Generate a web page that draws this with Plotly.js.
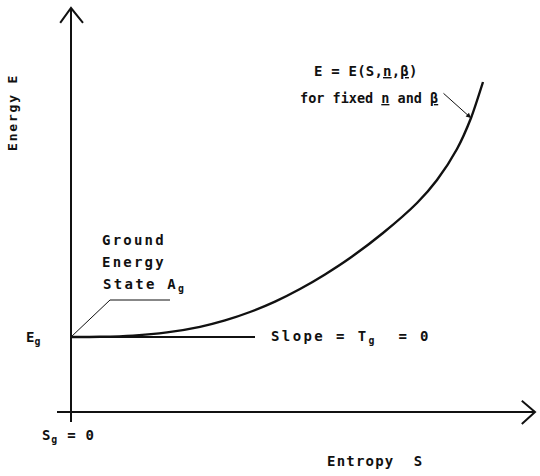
<!DOCTYPE html>
<html>
<head>
<meta charset="utf-8">
<script src="https://cdn.plot.ly/plotly-3.0.1.min.js"></script>
<style>
  html, body { margin: 0; padding: 0; background: #fff; }
  #chart { width: 540px; height: 476px; }
</style>
</head>
<body>
<div id="chart"></div>
<script>
// Energy curve E = E(S, n, beta) for fixed n and beta (arbitrary units)
const entropyS = [0, 0.725, 1.55, 2.4, 3.225, 3.85, 4.475, 5.1, 5.725, 6.35, 6.975, 7.8, 8.65, 9.15, 9.65, 10.0, 10.3];
const energyE  = [1.875, 1.88, 1.91, 1.99, 2.13, 2.29, 2.5, 2.76, 3.075, 3.44, 3.85, 4.475, 5.225, 5.8, 6.575, 7.35, 8.25];

// Ground state energy and the zero-slope tangent line
const groundEnergy = 1.875;
const slopeLineS = [0, 4.6];

// Axes extents (arrow tips)
const yAxisE = [-0.25, 10.1];
const xAxisS = [-0.35, 11.6];

const ink = '#111';
const FONT = {family: 'DejaVu Sans Mono, Liberation Mono, monospace', size: 14, color: ink, weight: 'bold'};

const traces = [
  // y axis with open arrowhead
  {x: [0, 0], y: yAxisE, mode: 'lines', line: {color: ink, width: 2}},
  {x: [-0.27, 0, 0.3], y: [yAxisE[1] - 0.37, yAxisE[1], yAxisE[1] - 0.37], mode: 'lines', line: {color: ink, width: 2}},
  // x axis with open arrowhead
  {x: xAxisS, y: [0, 0], mode: 'lines', line: {color: ink, width: 2}},
  {x: [xAxisS[1] - 0.33, xAxisS[1], xAxisS[1] - 0.33], y: [0.28, 0, -0.3], mode: 'lines', line: {color: ink, width: 2}},
  // zero-slope line at ground energy
  {x: slopeLineS, y: [groundEnergy, groundEnergy], mode: 'lines', line: {color: ink, width: 2}},
  // leader line to "Ground Energy State"
  {x: [0, 0.975, 2.475], y: [groundEnergy, 2.8, 2.8], mode: 'lines', line: {color: ink, width: 1}},
  // energy curve
  {x: entropyS, y: energyE, mode: 'lines', line: {color: ink, width: 2.4, shape: 'spline', smoothing: 0.7}}
];

const sp = (t, ls) => '<span style="letter-spacing:' + ls + 'px">' + t + '</span>';
const ann = (text, x, y, extra) => Object.assign({
  text: text, x: x, y: y, xref: 'x', yref: 'y', showarrow: false,
  xanchor: 'center', yanchor: 'middle', font: FONT
}, extra || {});

const annotations = [
  ann(sp('Energy E', 1.8), -1.475, 7.475, {textangle: -90, font: Object.assign({}, FONT, {size: 13})}),
  ann('E<sub>g</sub>', -0.95, 1.85),
  ann(sp('Ground', 2.2), 1.575, 4.3),
  ann(sp('Energy', 2.2), 1.575, 3.75),
  ann(sp('State A<sub>g</sub>', 2.3), 1.825, 3.175),
  ann(sp('Slope = T<sub>g</sub>  = 0', 2.4), 7.0, 1.875),
  ann(sp('S<sub>g</sub> = 0', 0.8), -0.075, -0.6),
  ann(sp('Entropy  S', 1.2), 7.6, -1.225),
  ann(sp('E = E(S,<u>n</u>,<u>β</u>)', 0.2), 7.375, 8.525),
  ann(sp('for fixed <u>n</u> and <u>β</u>', 0), 7.44, 7.85, {font: Object.assign({}, FONT, {size: 13.5})}),
  // pointer arrow to the curve
  {x: 10.0, y: 7.35, ax: 9.275, ay: 8.0, xref: 'x', yref: 'y', axref: 'x', ayref: 'y',
   text: '', showarrow: true, arrowhead: 2, arrowsize: 1, arrowwidth: 1, arrowcolor: ink}
];

const layout = {
  width: 540, height: 476,
  margin: {l: 0, r: 0, t: 0, b: 0},
  paper_bgcolor: '#fff', plot_bgcolor: '#fff',
  showlegend: false,
  xaxis: {range: [-1.775, 11.725], visible: false, fixedrange: true},
  yaxis: {range: [-1.6, 10.3], visible: false, fixedrange: true},
  annotations: annotations
};

Plotly.newPlot('chart', traces, layout, {staticPlot: true, displayModeBar: false});
</script>
</body>
</html>
